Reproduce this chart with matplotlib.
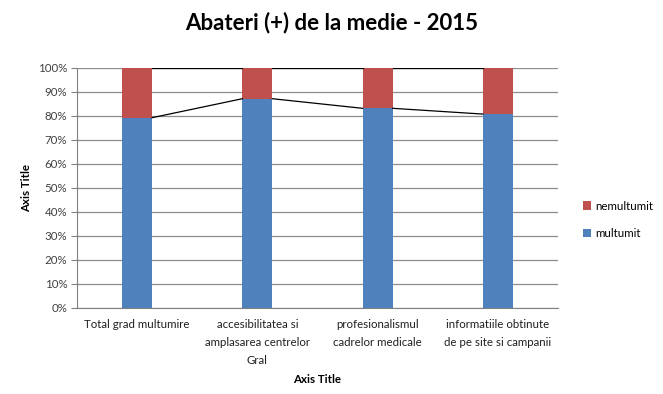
import matplotlib
matplotlib.use("Agg")
import matplotlib.pyplot as plt
import numpy as np

categories = ["Total grad multumire", "accesibilitatea si\namplasarea centrelor\nGral",
              "profesionalismul\ncadrelor medicale", "informatiile obtinute\nde pe site si campanii"]
multumit = [79.3, 87.2, 83.2, 80.8]
nemultumit = [100 - v for v in multumit]
yticks = [0, 10, 20, 30, 40, 50, 60, 70, 80, 90, 100]

plt.rcParams['font.family'] = ['Lato', 'DejaVu Sans']
fig = plt.figure(figsize=(6.63, 3.94), dpi=100)
ax = fig.add_axes([77/663, 1-308/394, 481/663, 240/394])

x = np.arange(len(categories))
w = 0.25
blue = "#4F81BD"
red = "#C0504D"
ax.bar(x, multumit, width=w, color=blue, label="multumit", zorder=3)
ax.bar(x, nemultumit, width=w, bottom=multumit, color=red, label="nemultumit", zorder=3)

# series lines
tops = [m + n for m, n in zip(multumit, nemultumit)]
for series in (multumit, tops):
    for i in range(len(x) - 1):
        ax.plot([x[i] + w/2, x[i+1] - w/2], [series[i], series[i+1]],
                color="black", lw=0.9, zorder=4)

ax.set_xlim(-0.5, len(x) - 0.5)
ax.set_ylim(0, 100)
ax.set_yticks(yticks)
ax.set_yticklabels([f"{t}%" for t in yticks], fontsize=8.3, color="#404040")
ax.set_xticks(x)
ax.set_xticklabels(categories, fontsize=8.3, color="#202020", linespacing=1.75)
ax.tick_params(axis='x', length=0, pad=8)
ax.tick_params(axis='y', length=4, color="#808080", pad=3)
ax.grid(axis='y', color="#8c8c8c", lw=0.9, zorder=0)
for s in ["top", "right"]:
    ax.spines[s].set_visible(False)
ax.spines["left"].set_color("#808080")
ax.spines["bottom"].set_color("#808080")

ax.set_xlabel("Axis Title", fontsize=8.3, fontweight="bold", labelpad=6)
ax.set_ylabel("Axis Title", fontsize=8.3, fontweight="bold", labelpad=4)

fig.suptitle("Abateri (+) de la medie - 2015", fontsize=16, fontweight="bold", y=0.97)

handles, labels = ax.get_legend_handles_labels()
ax.legend(handles[::-1], labels[::-1], loc="center left", bbox_to_anchor=(1.03, 0.367),
          frameon=False, fontsize=8.3, handlelength=0.7, handleheight=0.7,
          labelspacing=1.45, handletextpad=0.4)

fig.savefig("out.png", dpi=100)
